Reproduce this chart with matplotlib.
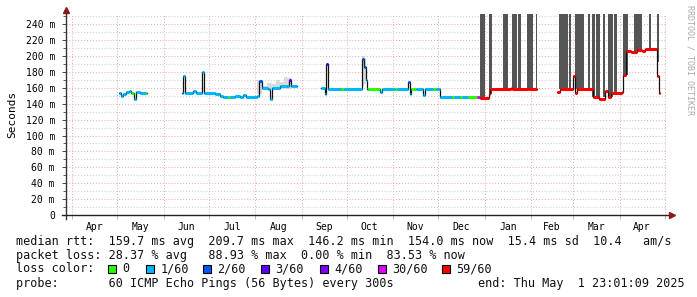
import numpy as np
import matplotlib
matplotlib.use('Agg')
import matplotlib.pyplot as plt
from matplotlib.patches import Rectangle
import datetime as dt

# ---------------- data (days since 2024-04-01, ms) ----------------
base = dt.datetime(2024, 4, 1)
end_time = dt.datetime(2025, 5, 1, 23, 1, 9)
span_days = 400

med_t = [31.4, 32.7, 34.0, 36.0, 38.0, 39.4, 41.4, 42.7, 45.4, 49.4, 50.0,
         73.4, 73.9, 75.0, 80.7, 82.7, 86.7, 87.7, 95.4, 98.7, 100.7, 104.1, 105.1,
         108.8, 112.1, 114.1, 116.1, 120.1, 123.4, 124.8, 126.4, 130.8, 131.8, 133.5,
         138.8, 143.5, 144.8, 145.8, 150.1,
         165.9, 168.3, 169.5, 170.8, 177.5, 179.5, 181.0, 193.0, 194.3, 196.0, 196.7,
         197.5, 205.5, 206.6, 215.5, 216.7, 224.0, 225.1, 226.2, 229.5, 234.0, 235.5,
         240.9, 242.9, 245.5, 253.5, 254.5, 258.9, 260.2, 264.2, 270.0, 272.2, 277.8,
         278.9, 292.3, 293.4, 304.1, 305.6, 310.1,
         323.4, 325.0, 334.1, 335.0, 336.7, 347.4, 351.0, 355.0, 357.4, 359.6, 366.8,
         367.4, 369.0, 372.3, 376.3, 379.7, 381.7, 390.1, 391.2, 392.0]
med_ms = [153, 150, 152, 155, 156, 153, 146, 155, 154, 153, np.nan,
          153, 175, 153, 156, 153, 180, 153, 152, 150, 148, 148, 148,
          150, 148, 151, 148, 149, 150, 169, 160, 159, 146, 160,
          162, 163, 170, 163, np.nan,
          160, 152, 190, 158, 159, 158, 158, 196, 186, 170, 158,
          158, 155, 159, 159, 159, 167, 152, 158, 159, 151, 159,
          159, 159, 148, 148, 148, 148, 148, 148, 148, 147, 152,
          158, 160, 158, 159, 158, np.nan,
          155, 158, 175, 154, 158, 148, 146, 156, 148, 153, 155,
          176, 207, 205, 208, 207, 209, 175, 154, np.nan]
med_loss = [1, 1, 1, 1, 1, 0, 1, 1, 1, 0, 0,
            1, 1, 1, 1, 1, 1, 1, 1, 1, 1, 0, 1,
            1, 1, 1, 1, 1, 1, 2, 1, 1, 1, 1,
            1, 1, 3, 1, 1,
            1, 1, 3, 1, 1, 0, 1, 2, 2, 1, 1,
            0, 1, 1, 0, 1, 2, 1, 0, 1, 1, 1,
            0, 1, 1, 0, 1, 0, 1, 0, 5, 6, 6,
            6, 6, 6, 6, 6, 6,
            6, 6, 6, 6, 6, 6, 6, 6, 6, 6, 6,
            6, 6, 6, 6, 6, 6, 6, 6, 6]

smoke_t = [86.7, 87.7, 98.7, 102.7, 123.4, 126.4, 130.0, 133.5, 136.0, 138.8, 141.0,
           143.5, 146.5, 150.1,
           165.9, 169.0, 193.0, 194.3, 196.0, 197.3, 205.5, 216.0, 222.9, 236.0,
           245.5, 256.0]
smoke_lo = [153, np.nan, 146, np.nan, 152, 157, 158, 157, 158, 158, 158,
            158, 158, np.nan,
            157, np.nan, 163, 165, 160, np.nan, 158, np.nan, 151, np.nan, 146, np.nan]
smoke_hi = [190, np.nan, 152, np.nan, 170, 163, 166, 165, 170, 168, 174,
            172, 168, np.nan,
            162, np.nan, 200, 198, 182, np.nan, 162, np.nan, 162, np.nan, 150, np.nan]

bar_start = [272.2, 278.2, 287.6, 293.6, 297.6, 303.6, 309.4, 324.3, 331.4, 335.6,
             343.8, 346.3, 349.6, 354.1, 357.4, 361.4, 367.2, 374.3, 384.3, 390.1]
bar_end = [275.6, 280.2, 290.3, 296.3, 299.6, 307.6, 310.1, 330.3, 332.3, 341.6,
           345.6, 348.3, 351.8, 355.6, 360.3, 363.0, 370.3, 379.7, 385.7, 391.6]
bar_floor = [147, 152, 158, 158, 158, 158, 158, 158, 158, 158,
             158, 148, 146, 148, 148, 153, 176, 207, 207, 192]

loss_labels = ['0', '1/60', '2/60', '3/60', '4/60', '30/60', '59/60']
loss_colors = ['#26ff00', '#00b8ff', '#0059ff', '#5e00ff', '#7e00ff', '#dd00ff', '#ff0000']

y_ticks = [0, 20, 40, 60, 80, 100, 120, 140, 160, 180, 200, 220, 240]
y_max = 253

line_rtt = 'median rtt:  159.7 ms avg  209.7 ms max  146.2 ms min  154.0 ms now  15.4 ms sd  10.4   am/s'
line_loss = 'packet loss: 28.37 % avg   88.93 % max  0.00 % min  83.53 % now'
line_probe = 'probe:       60 ICMP Echo Pings (56 Bytes) every 300s'

# ---------------- figure ----------------
W, H = 697, 297
fig = plt.figure(figsize=(W / 100, H / 100), dpi=100)
fig.patch.set_facecolor('white')
L, R, T, B = 66, 666, 14, 215
ax = fig.add_axes([L / W, 1 - B / H, (R - L) / W, (B - T) / H])
ax.set_facecolor('white')

end_day = (end_time - base).total_seconds() / 86400
ax.set_xlim(end_day - span_days, end_day)
ax.set_ylim(0, y_max)
for s in ax.spines.values():
    s.set_visible(False)

mono = 'DejaVu Sans Mono'
MGRID = '#e8a8a8'
GRID = '#c8c8c8'
dots = (0, (1, 2))

# grid
for v in range(10, y_max, 10):
    ax.axhline(v, color=MGRID if v % 20 == 0 else GRID, lw=0.7, ls=dots, zorder=0.5)

months = []
y, m = 2024, 4
while True:
    d = dt.datetime(y, m, 1)
    if d > end_time:
        break
    months.append(d)
    m += 1
    if m > 12:
        m = 1
        y += 1
month_days = [(d - base).total_seconds() / 86400 for d in months]
for md in month_days:
    ax.axvline(md, color=MGRID, lw=0.7, ls=dots, zorder=0.5)

# high-loss bars
for s0, s1, fl in zip(bar_start, bar_end, bar_floor):
    ax.add_patch(Rectangle((s0, fl), s1 - s0, 400 - fl, facecolor='#555555',
                           edgecolor='none', zorder=1))

# smoke
st = np.array(smoke_t)
ax.fill_between(st, smoke_lo, smoke_hi, step='post', color='#dadada', lw=0, zorder=1.5)

# median
mt = np.array(med_t)
mm = np.array(med_ms, dtype=float)
ax.step(mt, mm, where='post', color='#111111', lw=0.9, zorder=2)
for i in range(len(mt) - 1):
    if not np.isnan(mm[i]):
        ax.hlines(mm[i], mt[i], mt[i + 1], color=loss_colors[med_loss[i]], lw=2.2,
                  zorder=3, capstyle='butt')

# ticks
ax.set_yticks(y_ticks)
ax.set_yticklabels(['0' if v == 0 else f'{v} m' for v in y_ticks], fontfamily=mono, fontsize=7)
ax.set_yticks(range(10, y_max, 20), minor=True)
ax.tick_params(axis='y', which='major', length=3, width=0.7, color='#444444', pad=5)
ax.tick_params(axis='y', which='minor', length=2, width=0.6, color='#444444')
ax.set_xticks(month_days)
ax.set_xticklabels([])
ax.tick_params(axis='x', which='major', length=3, width=0.7, color=MGRID)
mid = [(month_days[i] + month_days[i + 1]) / 2 for i in range(len(month_days) - 1)]
ax.set_xticks(mid, minor=True)
ax.set_xticklabels([months[i].strftime('%b') for i in range(len(mid))], minor=True,
                   fontfamily=mono, fontsize=7)
ax.tick_params(axis='x', which='minor', length=0, pad=5)

# axis lines with arrows
ax.plot([0, 0], [-0.02, 1.02], transform=ax.transAxes, color='#333333', lw=1.0,
        clip_on=False, zorder=5)
ax.plot([-0.006, 1.008], [0, 0], transform=ax.transAxes, color='#222222', lw=1.0,
        clip_on=False, zorder=5)
ax.plot([0], [1.02], marker='^', ms=4, color='#8b1a1a', transform=ax.transAxes,
        clip_on=False, zorder=6)
ax.plot([1.01], [0], marker='>', ms=4, color='#8b1a1a', transform=ax.transAxes,
        clip_on=False, zorder=6)

ax.set_ylabel('Seconds', fontfamily=mono, fontsize=8, labelpad=6)

def fx(x):
    return x / W

def fy(y):
    return 1 - y / H

fig.text(fx(690), fy(5), 'RRDTOOL / TOBI OETIKER', rotation=-90, fontfamily=mono,
         fontsize=6, color='#aaaaaa', ha='center', va='top')

FS = 8.5
def t(x, y, s):
    fig.text(fx(x), fy(y), s, fontfamily=mono, fontsize=FS, ha='left', va='center',
             color='#111111')

y1, y2, y3, y4 = 241.5, 255.5, 269, 283
t(16, y1, line_rtt)
t(16, y2, line_loss)

t(16, y3, 'loss color:')
sq_x = [108, 146, 203, 261, 320, 378, 442]
for i, (lab, col) in enumerate(zip(loss_labels, loss_colors)):
    x0 = sq_x[i]
    fig.patches.append(Rectangle((fx(x0), fy(y3 + 4)), 8 / W, 8 / H, facecolor=col,
                                 edgecolor='black', lw=0.8, transform=fig.transFigure,
                                 figure=fig))
    t(x0 + 14.5, y3, lab)

t(16, y4, line_probe)
t(478.3, y4, 'end: ' + end_time.strftime('%a %b ') + f'{end_time.day:2d}' +
  end_time.strftime(' %H:%M:%S %Y'))

fig.savefig('out.png', dpi=100, facecolor='white')
